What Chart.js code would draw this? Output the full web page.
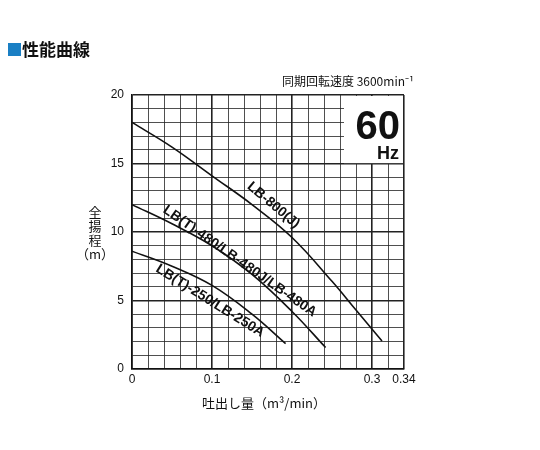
<!DOCTYPE html>
<html>
<head>
<meta charset="utf-8">
<script src="https://cdn.jsdelivr.net/npm/chart.js"></script>
<style>
  body { margin: 0; background: #fff; }
  #wrap { position: relative; width: 540px; height: 450px; }
</style>
</head>
<body>
<div id="wrap"><canvas id="c"></canvas></div>
<script>
var FONT = '"Noto Sans CJK JP", "Noto Sans", sans-serif';
var LFONT = '"Liberation Sans", Arial, sans-serif';

// curve points: [flow m3/min, head m]
var lb800 = [[0, 18], [0.05, 16.2], [0.1, 14.1], [0.15, 12.0], [0.2, 9.6], [0.25, 6.4], [0.28, 4.3], [0.3125, 2.05]];
var lb480 = [[0, 12], [0.05, 10.6], [0.1, 9.0], [0.15, 6.9], [0.2, 4.2], [0.242, 1.57]];
var lb250 = [[0, 8.6], [0.05, 7.5], [0.1, 6.1], [0.15, 4.0], [0.192, 1.85]];

var xLabels = [0, 0.1, 0.2, 0.3, 0.34];
var yLabels = [0, 5, 10, 15, 20];

var curveLabels = [
  { text: 'LB-800(J)', x: 0.176, y: 11.9, angle: 40 },
  { text: 'LB(T)-480/LB-480J/LB-480A', x: 0.134, y: 7.8, angle: 35 },
  { text: 'LB(T)-250/LB-250A', x: 0.097, y: 4.9, angle: 32 }
];

function toPts(a) { return a.map(function(p) { return { x: p[0], y: p[1] }; }); }

function isMajor(v, step) { return Math.abs(v / step - Math.round(v / step)) < 1e-6; }

var extras = {
  id: 'extras',
  afterDatasetsDraw: function(chart) {
    var ctx = chart.ctx, xs = chart.scales.x, ys = chart.scales.y;
    ctx.save();
    // 60Hz box
    var bx = xs.getPixelForValue(0.265), by = ys.getPixelForValue(20);
    var bw = xs.getPixelForValue(0.34) - bx, bh = ys.getPixelForValue(15.1) - by;
    ctx.fillStyle = '#fff';
    ctx.fillRect(bx, by + 1, bw - 1, bh);
    ctx.fillStyle = '#111';
    ctx.textAlign = 'right';
    ctx.textBaseline = 'alphabetic';
    ctx.font = 'bold 40px ' + LFONT;
    ctx.fillText('60', bx + bw - 4, by + 44);
    ctx.font = 'bold 18px ' + LFONT;
    ctx.fillText('Hz', bx + bw - 5, by + 64);
    // curve labels, sitting just above their curves
    ctx.font = 'bold 14px ' + LFONT;
    ctx.textAlign = 'center';
    ctx.textBaseline = 'middle';
    curveLabels.forEach(function(l) {
      ctx.save();
      ctx.translate(xs.getPixelForValue(l.x), ys.getPixelForValue(l.y));
      ctx.rotate(l.angle * Math.PI / 180);
      ctx.fillText(l.text, 0, -1);
      ctx.restore();
    });
    // titles
    ctx.fillStyle = '#1a7fc4';
    ctx.fillRect(8, 43, 13, 13);
    ctx.fillStyle = '#111';
    ctx.textAlign = 'left';
    ctx.font = 'bold 17px ' + FONT;
    ctx.fillText('性能曲線', 22, 50);
    ctx.font = '12px ' + FONT;
    ctx.textAlign = 'right';
    ctx.fillText('同期回転速度 3600min⁻¹', 414, 81);
    ctx.textAlign = 'center';
    ctx.font = '13px ' + FONT;
    ctx.fillText('吐出し量（m³/min）', 264, 403);
    ['全', '揚', '程', '（m）'].forEach(function(s, i) {
      ctx.fillText(s, 95, 212 + i * 14);
    });
    ctx.restore();
  }
};

function ds(data) {
  return { data: toPts(data), borderColor: '#111', borderWidth: 1.6, pointRadius: 0, tension: 0.4, fill: false };
}

new Chart(document.getElementById('c'), {
  type: 'line',
  data: { datasets: [ds(lb800), ds(lb480), ds(lb250)] },
  plugins: [extras],
  options: {
    responsive: true,
    maintainAspectRatio: false,
    animation: false,
    layout: { padding: { left: 0, right: 136, top: 95, bottom: 61 } },
    plugins: { legend: { display: false }, tooltip: { enabled: false } },
    scales: {
      x: {
        type: 'linear', min: 0, max: 0.34,
        afterFit: function(s) { s.height = 20; },
        afterBuildTicks: function(s) {
          var t = [];
          for (var i = 0; i <= 17; i++) t.push({ value: i * 0.02 });
          s.ticks = t;
        },
        ticks: {
          color: '#111', font: { family: LFONT, size: 12 }, maxRotation: 0, autoSkip: false, padding: 3,
          callback: function(v) {
            for (var i = 0; i < xLabels.length; i++) if (Math.abs(v - xLabels[i]) < 1e-6) return String(xLabels[i]);
            return '';
          }
        },
        grid: {
          color: '#222', drawTicks: false,
          lineWidth: function(c) { return isMajor(c.tick.value, 0.1) || Math.abs(c.tick.value - 0.34) < 1e-6 ? 1.6 : 0.8; }
        },
        border: { color: '#111', width: 1.6 }
      },
      y: {
        min: 0, max: 20,
        afterFit: function(s) { s.width = 132; },
        ticks: {
          stepSize: 1, autoSkip: false, color: '#111', font: { family: LFONT, size: 12 }, padding: 8,
          callback: function(v) { return yLabels.indexOf(v) >= 0 ? String(v) : ''; }
        },
        grid: {
          color: '#222', drawTicks: false,
          lineWidth: function(c) { return isMajor(c.tick.value, 5) ? 1.6 : 0.8; }
        },
        border: { color: '#111', width: 1.6 }
      }
    }
  }
});
</script>
</body>
</html>
